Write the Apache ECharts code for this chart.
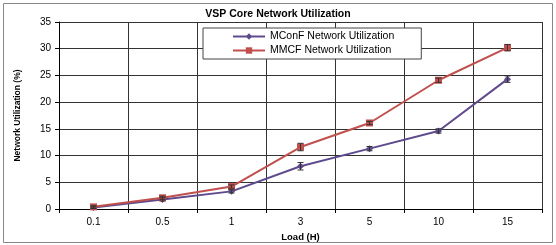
<!DOCTYPE html>
<html><head><meta charset="utf-8">
<script src="https://cdn.jsdelivr.net/npm/echarts@6/dist/echarts.min.js"></script>
<style>html,body{margin:0;padding:0;background:#fff}#c{width:556px;height:245px}</style>
</head><body><div id="c"></div>
<script>
const categories = ['0.1','0.5','1','3','5','10','15'];
const mconf = [0.3, 1.8, 3.3, 8.0, 11.3, 14.6, 24.3];
const mmcf = [0.4, 2.1, 4.2, 11.6, 16.1, 24.1, 30.2];
const mconfErr = [0.2, 0.3, 0.3, 0.7, 0.4, 0.4, 0.6];
const mmcfErr = [0.2, 0.3, 0.3, 0.7, 0.3, 0.4, 0.6];
const yTicks = [0,5,10,15,20,25,30,35];
const FONT = 'Liberation Sans, Arial, sans-serif';

function errSeries(vals, errs, color){
  return {
    type:'custom', silent:true, z:5,
    data: vals.map((v,i)=>[i, v-errs[i], v+errs[i]]),
    renderItem(params, api){
      const lo = api.coord([api.value(0), api.value(1)]);
      const hi = api.coord([api.value(0), api.value(2)]);
      const w = 3;
      return {type:'group', children:[
        {type:'line', shape:{x1:lo[0],y1:lo[1],x2:hi[0],y2:hi[1]}, style:{stroke:color,lineWidth:1}},
        {type:'line', shape:{x1:lo[0]-w,y1:lo[1],x2:lo[0]+w,y2:lo[1]}, style:{stroke:color,lineWidth:1}},
        {type:'line', shape:{x1:hi[0]-w,y1:hi[1],x2:hi[0]+w,y2:hi[1]}, style:{stroke:color,lineWidth:1}}
      ]};
    }
  };
}

const chart = echarts.init(document.getElementById('c'), null, {renderer:'canvas'});
chart.setOption({
  animation:false,
  textStyle:{fontFamily:FONT},
  title:{text:'VSP Core Network Utilization', left:'center', top:4,
    textStyle:{fontFamily:FONT, fontSize:10.5, fontWeight:'bold', color:'#000'}},
  graphic:[{type:'rect', shape:{x:3.5,y:3.5,width:549,height:239}, style:{fill:'none', stroke:'#888', lineWidth:1}, silent:true}],
  legend:{
    orient:'vertical', left:203, top:28, width:218,
    data:['MConF Network Utilization','MMCF Network Utilization'],
    backgroundColor:'#fff', borderColor:'#444', borderWidth:1,
    padding:[3,27,3,29], itemGap:3, itemWidth:32, itemHeight:8,
    textStyle:{fontFamily:FONT, fontSize:10.5, color:'#000'}
  },
  grid:{left:59, right:14, top:22, bottom:36, containLabel:false, outerBoundsMode:'none'},
  xAxis:{
    type:'category', data:categories, boundaryGap:true,
    name:'Load (H)', nameLocation:'middle', nameGap:21,
    nameTextStyle:{fontFamily:FONT, fontSize:9.5, fontWeight:'bold', color:'#000'},
    axisLine:{lineStyle:{color:'#000', width:1}},
    axisTick:{show:true, length:4, lineStyle:{color:'#000'}},
    axisLabel:{fontFamily:FONT, fontSize:10, color:'#000', margin:8},
    splitLine:{show:true, lineStyle:{color:'#333', width:1}}
  },
  yAxis:{
    type:'value', min:0, max:35, interval:5,
    name:'Network Utilization (%)', nameLocation:'middle', nameGap:37, nameRotate:90,
    nameTextStyle:{fontFamily:FONT, fontSize:8.5, fontWeight:'bold', color:'#000'},
    axisLine:{show:true, lineStyle:{color:'#000', width:1}},
    axisTick:{show:true, length:4, lineStyle:{color:'#000'}},
    axisLabel:{fontFamily:FONT, fontSize:10, color:'#000', margin:8},
    splitLine:{show:true, lineStyle:{color:'#333', width:1}}
  },
  series:[
    {name:'MConF Network Utilization', type:'line', data:mconf, z:3,
     color:'#5E4A8C', lineStyle:{width:2, color:'#5E4A8C'},
     symbol:'diamond', symbolSize:7, itemStyle:{color:'#5E4A8C'}},
    {name:'MMCF Network Utilization', type:'line', data:mmcf, z:4,
     color:'#C0504D', lineStyle:{width:2, color:'#C0504D'},
     symbol:'rect', symbolSize:7, itemStyle:{color:'#C0504D'}},
    errSeries(mconf, mconfErr, '#333'),
    errSeries(mmcf, mmcfErr, '#333')
  ]
});
</script></body></html>
